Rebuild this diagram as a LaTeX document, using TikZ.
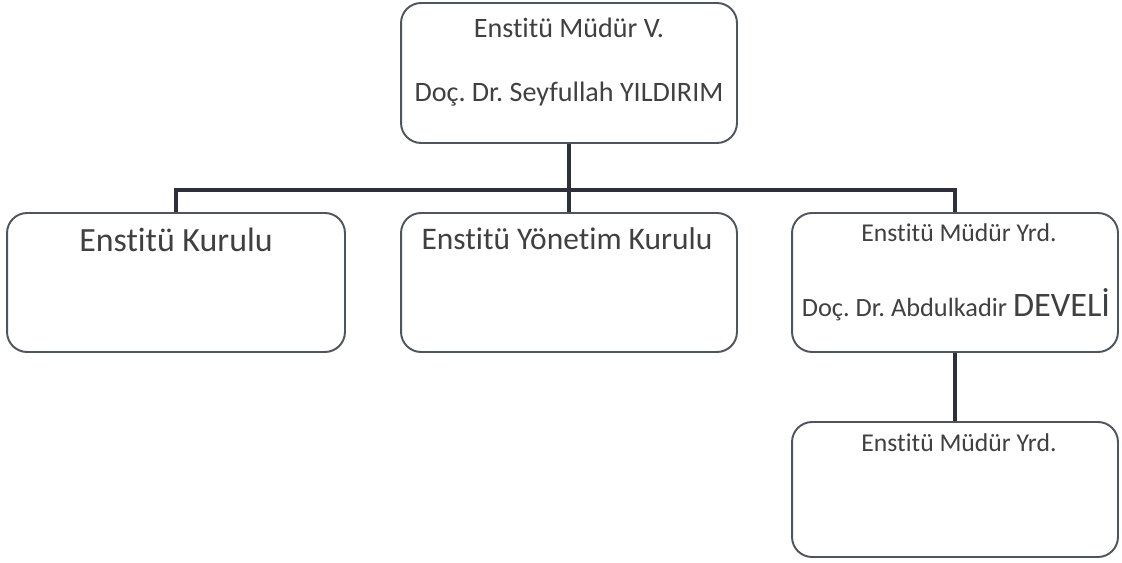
\documentclass[tikz,border=0pt]{standalone}
\usepackage{fontspec}
\setmainfont{Carlito}[Ligatures = NoCommon]
\usetikzlibrary{positioning}
\frenchspacing

\definecolor{boxgray}{RGB}{80,84,92}
\definecolor{linegray}{RGB}{45,48,58}
\definecolor{textgray}{RGB}{64,64,64}

\tikzset{
  orgbox/.style = {draw = boxgray, line width = 1.1pt, rounded corners = 0.4cm, fill = white, inner sep = 0pt},
  orgtext/.style = {text = textgray, anchor = base, inner sep = 0pt},
  link/.style = {draw = linegray, line width = 2.8pt}
}

\begin{document}
\begin{tikzpicture} [x = 0.02cm, y = -0.02cm]
\useasboundingbox (0, 0) rectangle (1122, 563);
\coordinate (bus) at (569, 190);
\node[orgbox, minimum width = 6.72cm, minimum height = 2.8cm] (mudur) at (569, 73){};
\node[orgbox, minimum width = 6.76cm, minimum height = 2.78cm] (kurul) at (176, 282.5){};
\node[orgbox, minimum width = 6.72cm, minimum height = 2.78cm] (yonetim) at (569, 282.5){};
\node[orgbox, minimum width = 6.52cm, minimum height = 2.78cm] (yrd) at (955, 282.5){};
\node[orgbox, minimum width = 6.52cm, minimum height = 2.7cm] (yrdiki) at (955, 489.5){};
\draw[link] (mudur.south) -- (yonetim.north);
\draw[link] (kurul.north) -- (kurul.north |- bus) -- (yrd.north |- bus) -- (yrd.north);
\draw[link] (yrd.south) -- (yrdiki.north);
\node[orgtext, font = \fontsize{16}{19}\selectfont] (mudurad) at (569, 38){Enstitü Müdür V.};
\node[orgtext, font = \fontsize{16}{19}\selectfont] (mudurisim) at (569, 102){Doç. Dr. Seyfullah YILDIRIM};
\node[orgtext, font = \fontsize{19.3}{22}\selectfont] (kurulad) at (176, 252){Enstitü Kurulu};
\node[orgtext, font = \fontsize{17.9}{21}\selectfont] (yonetimad) at (567, 250){Enstitü Yönetim Kurulu};
\node[orgtext, font = \fontsize{14.6}{17}\selectfont] (yrdad) at (959, 242){Enstitü Müdür Yrd.};
\node[orgtext, font = \fontsize{15}{18}\selectfont] (yrdisim) at (956, 317){Doç. Dr. Abdulkadir {\fontsize{19.5}{22}\selectfont DEVELİ}};
\node[orgtext, font = \fontsize{14.6}{17}\selectfont] (yrdikiad) at (959, 452){Enstitü Müdür Yrd.};
\end{tikzpicture}
\end{document}
